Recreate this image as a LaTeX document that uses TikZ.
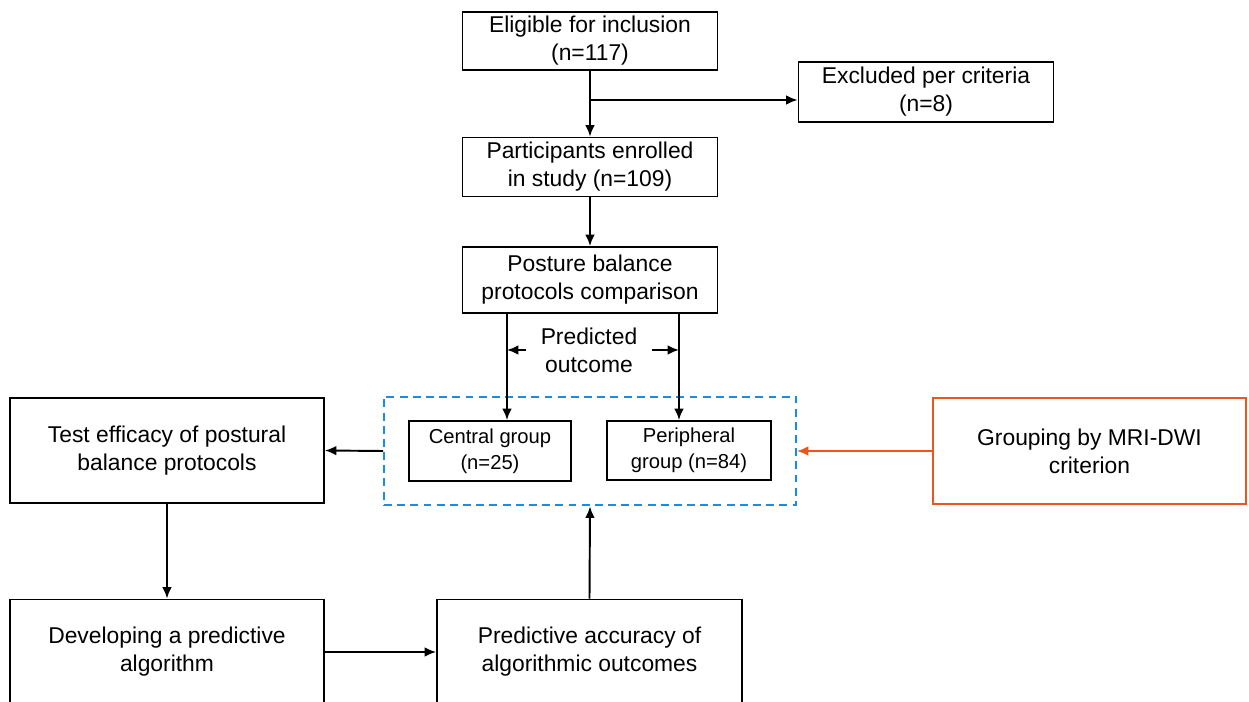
\documentclass[tikz,border=0pt]{standalone}
\usepackage{fontspec}
\setmainfont{Liberation Sans}
\usepackage{xcolor}
\usetikzlibrary{positioning,fit,arrows.meta}
\definecolor{grpblue}{RGB}{25,140,230}
\definecolor{mriorange}{RGB}{235,85,30}

\tikzset{
  box/.style={draw,line width=1.1pt,align=center,inner sep=2pt,
    font=\fontsize{13}{16}\selectfont},
  smallbox/.style={box,font=\fontsize{11.5}{15}\selectfont},
  arr/.style={line width=1.1pt,-{Latex[length=6.5pt,width=5.5pt]}},
}

\begin{document}
\begin{tikzpicture}[x=0.02cm,y=-0.02cm]
  \clip (0,0) rectangle (1249,702);
  % enrolment
  \node[box,minimum width=5.1cm,minimum height=1.16cm] (Elig) at (590,41) {Eligible for inclusion\\(n=117)};
  \node[box,minimum width=5.1cm,minimum height=1.2cm] (Excl) at (926,92) {Excluded per criteria\\(n=8)};
  \node[box,minimum width=5.1cm,minimum height=1.18cm] (Part) at (590,167) {Participants enrolled\\in study (n=109)};
  \node[box,minimum width=5.1cm,minimum height=1.32cm] (Post) at (590,280) {Posture balance\\protocols comparison};
  \node[font=\fontsize{13}{16}\selectfont,align=center,inner xsep=0.28cm,inner ysep=0pt] (Pred) at (589,350) {Predicted\\outcome};
  % groups
  \node[smallbox,minimum width=3.24cm,minimum height=1.2cm] (Cent) at (490,451) {Central group\\(n=25)};
  \node[smallbox,minimum width=3.28cm,minimum height=1.18cm] (Peri) at (689,450.5) {Peripheral\\group (n=84)};
  \node[draw=grpblue,line width=1.1pt,dash pattern=on 4.5pt off 3pt,inner xsep=0.48cm,inner ysep=0.47cm,fit=(Cent)(Peri)] (Grp) {};
  \node[box,minimum width=6.28cm,minimum height=2.1cm] (Test) at (167,450.5) {Test efficacy of postural\\balance protocols};
  \node[box,draw=mriorange,minimum width=6.26cm,minimum height=2.12cm] (MRI) at (1089.5,451) {Grouping by MRI-DWI\\criterion};
  % algorithm
  \node[box,minimum width=6.28cm,minimum height=2.1cm] (Algo) at (167,652) {Developing a predictive\\algorithm};
  \node[box,minimum width=6.1cm,minimum height=2.1cm] (Accu) at (589.5,652) {Predictive accuracy of\\algorithmic outcomes};

  \coordinate (split) at (590,100);
  \coordinate (lineL) at (507,313);
  \coordinate (lineR) at (679,313);
  \draw[line width=1.1pt] (Elig.south) -- (split);
  \draw[arr] (split) -- (Part.north);
  \draw[arr] (split) -- (split -| Excl.west);
  \draw[arr] (Part.south) -- (Post.north);
  \draw[arr] (lineL) -- (lineL |- Cent.north);
  \draw[arr] (lineR) -- (lineR |- Peri.north);
  \draw[arr] (Pred.west) -- (Pred.west -| lineL);
  \draw[arr] (Pred.east) -- (Pred.east -| lineR);
  \draw[arr] (Grp.west) -- (Test.east);
  \draw[arr,draw=mriorange,fill=mriorange] (MRI.west) -- (Grp.east);
  \draw[arr] (Test.south) -- (Algo.north);
  \draw[arr] (Algo.east) -- (Accu.west);
  \draw[arr] (Accu.north) -- (Grp.south);
\end{tikzpicture}
\end{document}
